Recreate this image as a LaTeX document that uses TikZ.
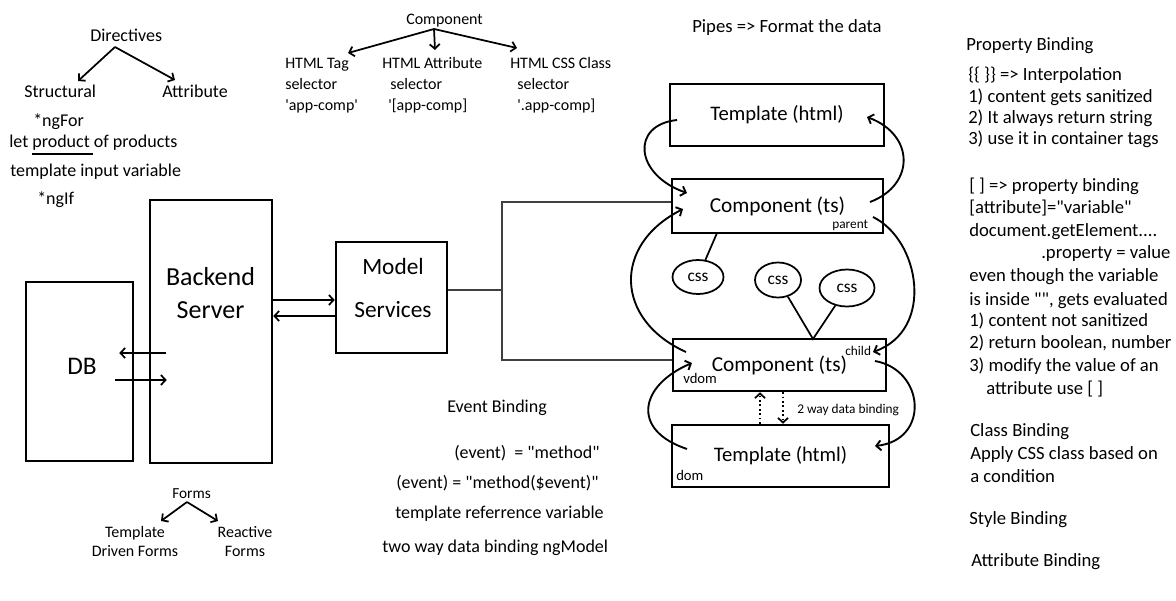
\documentclass[tikz,border=0pt]{standalone}
\usepackage{fontspec}
\setmainfont{Carlito}[Ligatures=TeXOff]
\usepackage{tikz}
\usetikzlibrary{shapes.geometric,arrows.meta,calc}
\tikzset{
>={Straight Barb[length=3.5pt,width=7.5pt]},
boxnodev1/.style={rectangle, draw=black!100,fill=none, line width=1.9pt, inner sep=0pt},
ellipsenodev1/.style={ellipse, draw=black!100,fill=none, line width=1.3pt, inner sep=0pt, font=\fontsize{13}{15}\selectfont},
textnodev1/.style={anchor=west, inner sep=0pt, text height=1.4ex, text depth=0pt, font=\fontsize{13.5}{16}\selectfont},
textnodev2/.style={anchor=west, inner sep=0pt, text height=1.4ex, text depth=0pt, font=\fontsize{12}{14}\selectfont},
textnodev3/.style={anchor=west, inner sep=0pt, text height=1.4ex, text depth=0pt, font=\fontsize{14}{16}\selectfont},
smallnodev1/.style={anchor=west, inner sep=0pt, text height=1.4ex, text depth=0pt, font=\fontsize{10}{12}\selectfont},
pairnodev1/.style={align=center, inner sep=0pt, font=\fontsize{12}{14.25}\selectfont},
treearrowv1/.style={line width=1.3pt, ->},
curvearrowv1/.style={line width=1.4pt, ->},
plainlinev1/.style={line width=1.3pt},
bracketlinev1/.style={line width=1.4pt, draw=black!75},
dottedarrowv1/.style={line width=1.3pt, dotted, ->},
}

\begin{document}
\begin{tikzpicture}[x=0.75pt,y=-0.75pt]
    \useasboundingbox (0,0) rectangle (1176,600);
    \node[textnodev1] at (90,37) (directives) {Directives};
    \coordinate (dirfork) at (115,47);
    \coordinate (structtip) at (78,81);
    \coordinate (attrtip) at (175,80);
    \node[textnodev1] at (24,93) (structural) {Structural};
    \node[textnodev1] at (162,93) (attribute) {Attribute};
    \draw[treearrowv1] (dirfork) to (structtip);
    \draw[treearrowv1] (dirfork) to (attrtip);
    \node[textnodev1] at (33,122) (ngfor) {*ngFor};
    \node[textnodev1] at (9,143) (letproduct) {let product of products};
    \draw[plainlinev1] (32,154) -- (93,154);
    \node[textnodev1] at (10,172) (tplinput) {template input variable};
    \node[textnodev1] at (37,200) (ngif) {*ngIf};
    \node[textnodev2] at (406,20) (component) {Component};
    \coordinate (compfork) at (434,29);
    \coordinate (tagtip) at (348,53);
    \coordinate (attrseltip) at (435,50);
    \coordinate (classtip) at (517,48);
    \draw[treearrowv1] (compfork) to (tagtip);
    \draw[treearrowv1] (compfork) to (attrseltip);
    \draw[treearrowv1] (compfork) to (classtip);
    \node[textnodev2] at (285,64) (tagsel) {HTML Tag};
    \node[textnodev2] at (285,85) (tagselb) {selector};
    \node[textnodev2] at (285,106) (tagselc) {'app-comp'};
    \node[textnodev2] at (382,64) (attrsel) {HTML Attribute};
    \node[textnodev2] at (390,85) (attrselb) {selector};
    \node[textnodev2] at (388,106) (attrselc) {'[app-comp]};
    \node[textnodev2] at (510,64) (classsel) {HTML CSS Class};
    \node[textnodev2] at (517,85) (classselb) {selector};
    \node[textnodev2] at (517,106) (classselc) {'.app-comp]};
    \node[textnodev3] at (692,28) (pipes) {Pipes => Format the data};
    \node[textnodev3] at (966,46) (propbinding) {Property Binding};
    \node[textnodev3] at (968,76) (pbline1) {\{\{ \}\} => Interpolation};
    \node[textnodev3] at (968,98) (pbline2) {1) content gets sanitized};
    \node[textnodev3] at (968,119) (pbline3) {2) It always return string};
    \node[textnodev3] at (968,140) (pbline4) {3) use it in container tags};
    \node[textnodev3] at (969,187) (pbline5) {[ ] => property binding};
    \node[textnodev3] at (969,209) (pbline6) {[attribute]="variable"};
    \node[textnodev3] at (969,232) (pbline7) {document.getElement....};
    \node[textnodev3] at (1041,254) (pbline8) {.property = value};
    \node[textnodev3] at (969,277) (pbline9) {even though the variable};
    \node[textnodev3] at (969,301) (pbline10) {is inside "", gets evaluated};
    \node[textnodev3] at (969,322) (pbline11) {1) content not sanitized};
    \node[textnodev3] at (969,344) (pbline12) {2) return boolean, number};
    \node[textnodev3] at (969,367) (pbline13) {3) modify the value of an};
    \node[textnodev3] at (986,390) (pbline14) {attribute use [ ]};
    \node[textnodev3] at (970,432) (classbinding) {Class Binding};
    \node[textnodev3] at (970,455) (cbline1) {Apply CSS class based on};
    \node[textnodev3] at (970,478) (cbline2) {a condition};
    \node[textnodev3] at (969,520) (stylebinding) {Style Binding};
    \node[textnodev3] at (971,562) (attrbinding) {Attribute Binding};
    \node[boxnodev1, minimum width=80.25pt, minimum height=134.25pt] at (79.5,371.5) (db) {};
    \node[inner sep=0pt, font=\fontsize{19}{22}\selectfont] at (82,366) (dbtext) {DB};
    \node[boxnodev1, minimum width=91.5pt, minimum height=197.25pt] at (211,331.5) (backend) {};
    \node[pairnodev1, font=\fontsize{19.5}{24.75}\selectfont] at (210.5,293.5) (backendtext) {Backend\\Server};
    \node[boxnodev1, minimum width=83.25pt, minimum height=83.25pt] at (391.5,297.5) (model) {};
    \node[pairnodev1, font=\fontsize{17.5}{32.25}\selectfont] at (393,288) (modeltext) {Model\\Services};
    \draw[plainlinev1,->] ($(backend.west |- 0,353)+(17,0)$) -- ($(db.east |- 0,353)+(-15,0)$);
    \draw[plainlinev1,->] ($(db.east |- 0,380)+(-19,0)$) -- ($(backend.west |- 0,380)+(18,0)$);
    \draw[plainlinev1,->] (backend.east |- 0,300) -- (model.west |- 0,300);
    \draw[plainlinev1,->] ($(model.west |- 0,316)+(2,0)$) -- (backend.east |- 0,316);
    \node[boxnodev1, minimum width=160.5pt, minimum height=46.5pt, font=\fontsize{15.5}{18}\selectfont] at (777,115) (tpltop) {Template (html)};
    \node[boxnodev1, minimum width=158.25pt, minimum height=40.5pt, font=\fontsize{16}{19}\selectfont] at (777.5,206) (comptop) {Component (ts)};
    \node[boxnodev1, minimum width=159.75pt, minimum height=39pt, font=\fontsize{16}{19}\selectfont] at (779.5,365) (compbot) {Component (ts)};
    \node[boxnodev1, minimum width=162.75pt, minimum height=46.5pt, font=\fontsize{15.5}{18}\selectfont] at (780.5,456) (tplbot) {Template (html)};
    \node[smallnodev1] at (832,224) (parent) {parent};
    \node[smallnodev1] at (845,351) (child) {child};
    \node[smallnodev1, font=\fontsize{11}{13}\selectfont] at (683,379) (vdom) {vdom};
    \node[smallnodev1, font=\fontsize{11}{13}\selectfont] at (676,476) (dom) {dom};
    \coordinate (fork) at (502,290);
    \coordinate (forktop) at (502,202);
    \coordinate (forkbot) at (502,360);
    \draw[bracketlinev1] (model.east |- fork) -- (fork);
    \draw[bracketlinev1] (comptop.west |- forktop) -- (forktop) -- (forkbot) -- (compbot.west |- forkbot);
    \node[ellipsenodev1, minimum width=38.25pt, minimum height=25.5pt] at (698,277) (cssa) {css};
    \node[ellipsenodev1, minimum width=34.5pt, minimum height=26.25pt] at (778,280) (cssb) {css};
    \node[ellipsenodev1, minimum width=41.25pt, minimum height=27.75pt] at (847,288) (cssc) {css};
    \coordinate (cssajoin) at (717,233);
    \coordinate (cssjoin) at (813,339);
    \draw[plainlinev1] (cssa) -- (cssajoin);
    \draw[plainlinev1] (cssb) -- (cssjoin) -- (cssc);
    \coordinate (tpltopout) at (677,120);
    \coordinate (comptopina) at (687,193);
    \coordinate (comptopout) at (870,202);
    \coordinate (tpltopin) at (867,117);
    \coordinate (parentout) at (873,217);
    \coordinate (childin) at (873,352);
    \coordinate (compbotout) at (686,352);
    \coordinate (comptopinb) at (683,209);
    \coordinate (compbotright) at (875,361);
    \coordinate (tplbotin) at (875,446);
    \coordinate (tplbotout) at (687,449);
    \coordinate (vdomin) at (692,363);
    \draw[curvearrowv1] (tpltopout) .. controls (630,125) and (635,175) .. (comptopina);
    \draw[curvearrowv1] (comptopout) .. controls (915,185) and (915,135) .. (tpltopin);
    \draw[curvearrowv1] (parentout) .. controls (920,240) and (935,330) .. (childin);
    \draw[curvearrowv1] (compbotout) .. controls (615,320) and (612,245) .. (comptopinb);
    \draw[curvearrowv1] (compbotright) .. controls (925,370) and (930,440) .. (tplbotin);
    \draw[curvearrowv1] (tplbotout) .. controls (630,430) and (640,385) .. (vdomin);
    \draw[dottedarrowv1] (tplbot.north -| 760,0) -- (compbot.south -| 760,0);
    \draw[dottedarrowv1] (compbot.south -| 783,0) -- (tplbot.north -| 783,0);
    \node[smallnodev1] at (797,409) (twoway) {2 way data binding};
    \node[textnodev1] at (447,408) (eventbinding) {Event Binding};
    \node[textnodev1] at (454,454) (ebline1) {(event)\ \ = "method"};
    \node[textnodev1] at (396,484) (ebline2) {(event) = "method(\$event)"};
    \node[textnodev1] at (395,514) (ebline3) {template referrence variable};
    \node[textnodev1] at (382,548) (ebline4) {two way data binding ngModel};
    \node[textnodev2, font=\fontsize{11.5}{14}\selectfont] at (172,494) (forms) {Forms};
    \coordinate (formsfork) at (187,502);
    \coordinate (tdftip) at (161,521);
    \coordinate (rftip) at (218,521);
    \draw[treearrowv1] (formsfork) to (tdftip);
    \draw[treearrowv1] (formsfork) to (rftip);
    \node[pairnodev1] at (135,541) (tdforms) {Template\\Driven Forms};
    \node[pairnodev1] at (245,542) (rforms) {Reactive\\Forms};
\end{tikzpicture}
\end{document}
